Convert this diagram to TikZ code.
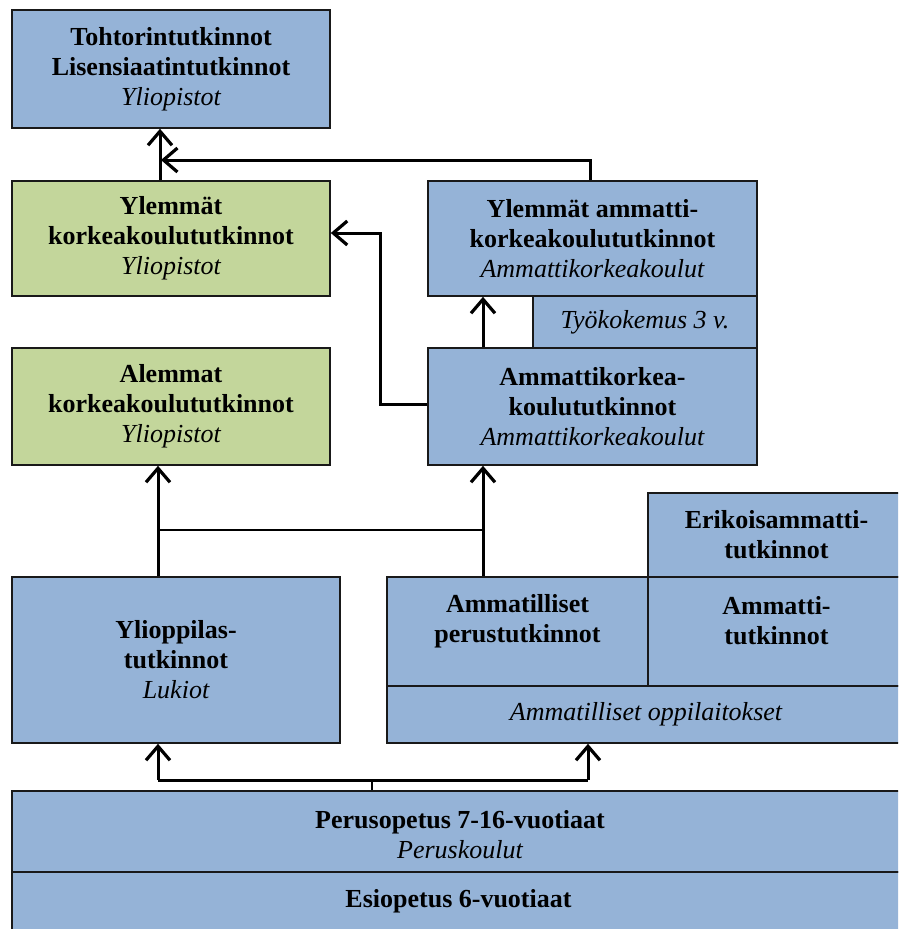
\documentclass[tikz,border=0pt]{standalone}
\usepackage{fontspec}
\setmainfont{Liberation Serif}
\usetikzlibrary{arrows.meta,calc}
\definecolor{bblue}{HTML}{95B3D7}
\definecolor{bgreen}{HTML}{C3D69B}
\begin{document}
\begin{tikzpicture}[x=1pt,y=-1pt,
  box/.style={draw=black!90,line width=1.6pt,inner sep=0pt,align=center,
    font=\fontsize{26}{30}\selectfont\bfseries},
  bl/.style={box,fill=bblue},
  gr/.style={box,fill=bgreen},
  txt/.style={inner sep=0pt,align=center,font=\fontsize{26}{30}\selectfont\bfseries},
  arr/.style={line width=3pt,-{Straight Barb[length=14pt,width=24pt,line width=3.2pt]}},
  thick3/.style={line width=3pt},
  thinl/.style={line width=1.5pt}]
\useasboundingbox (0,0) rectangle (898,929);
\clip (0,0) rectangle (898,929);
% boxes
\node[bl,minimum width=318pt,minimum height=118pt] (toh) at (171,69)
  {Tohtorintutkinnot\\Lisensiaatintutkinnot\\{\mdseries\itshape Yliopistot}};
\node[gr,minimum width=318pt,minimum height=115pt] (ylk) at (171,238.5)
  {Ylemmät\\korkeakoulututkinnot\\{\mdseries\itshape Yliopistot}};
\node[bl,minimum width=329pt,minimum height=115pt] (yamk) at (592.5,238.5)
  {Ylemmät ammatti-\\korkeakoulututkinnot\\{\mdseries\itshape Ammattikorkeakoulut}};
\node[bl,minimum width=224pt,minimum height=52pt] (tyo) at (645,322)
  {{\mdseries\itshape Työkokemus 3 v.}};
\node[bl,minimum width=329pt,minimum height=117pt] (amk) at (592.5,406.5)
  {Ammattikorkea-\\koulututkinnot\\{\mdseries\itshape Ammattikorkeakoulut}};
\node[gr,minimum width=318pt,minimum height=117pt] (alk) at (171,406.5)
  {Alemmat\\korkeakoulututkinnot\\{\mdseries\itshape Yliopistot}};
\node[bl,minimum width=257pt,minimum height=84pt] (erik) at (776.5,535)
  {Erikoisammatti-\\tutkinnot};
\node[bl,minimum width=328pt,minimum height=166pt] (yo) at (176,660)
  {Ylioppilas-\\tutkinnot\\{\mdseries\itshape Lukiot}};
\node[bl,minimum width=261pt,minimum height=109pt] (perus) at (517.5,631.5) {};
\node[txt] (perust) at (517.5,621) {Ammatilliset\\perustutkinnot};
\node[bl,minimum width=257pt,minimum height=109pt] (amt) at (776.5,631.5) {};
\node[txt] (amtt) at (776.5,621) {Ammatti-\\tutkinnot};
\node[bl,minimum width=518pt,minimum height=57pt] (opp) at (646,714.5)
  {{\mdseries\itshape Ammatilliset oppilaitokset}};
\node[bl,minimum width=893pt,minimum height=81pt] (po) at (458.5,831.5) {};
\node[txt] (pot) at (460,835) {Perusopetus 7-16-vuotiaat\\{\mdseries\itshape Peruskoulut}};
\node[bl,minimum width=893pt,minimum height=58pt] (eo) at (458.5,901)
  {Esiopetus 6-vuotiaat};
% helper coordinates
\coordinate (c160) at (160,0);
\coordinate (c158) at (158,0);
\coordinate (c590) at (590,0);
\coordinate (c483) at (483,0);
\coordinate (c588) at (588,0);
\coordinate (c372) at (372,0);
\coordinate (j1) at (161,160);
\coordinate (j2) at (380,404);
\coordinate (j3) at (160,530);
\coordinate (j4) at (483,530);
\coordinate (b1) at (158,780);
\coordinate (b2) at (588,780);
\coordinate (b0) at (372,780);
% connectors
\draw[arr] (ylk.north -| c160) -- (toh.south -| c160);
\draw[arr] (yamk.north -| c590) |- (j1);
\draw[arr] (amk.west |- j2) -- (j2) |- ($(ylk.east)+(0,-5.5)$);
\draw[arr] (amk.north -| c483) -- (yamk.south -| c483);
\draw[arr] (yo.north -| c158) -- (alk.south -| c158);
\draw[arr] (perus.north -| c483) -- (amk.south -| c483);
\draw[thinl] (j3) -- (j4);
\draw[line width=2pt] (po.north -| c372) -- (b0);
\draw[thick3] (b1) -- (b2);
\draw[arr] (b1) -- (yo.south -| c158);
\draw[arr] (b2) -- (opp.south -| c588);
\end{tikzpicture}
\end{document}
